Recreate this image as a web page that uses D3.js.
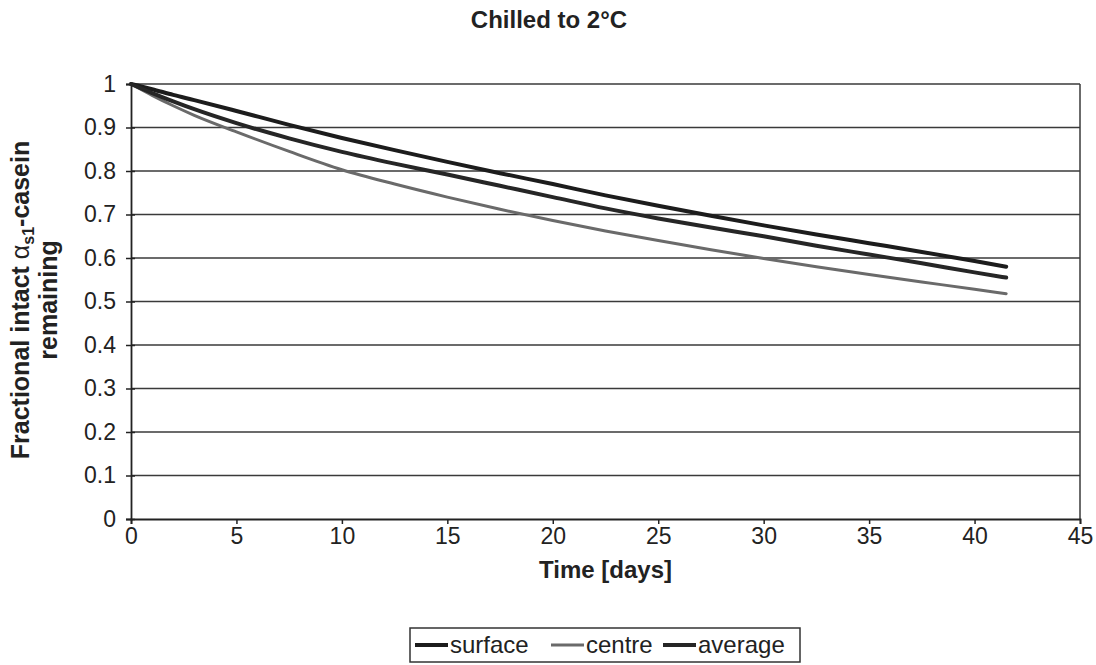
<!DOCTYPE html>
<html>
<head>
<meta charset="utf-8">
<script src="https://cdn.jsdelivr.net/npm/d3@7"></script>
<style>
  html, body { margin: 0; padding: 0; background: #fff; }
  svg text { font-family: "Liberation Sans", Arial, Helvetica, sans-serif; fill: #222; }
</style>
</head>
<body>
<svg id="chart" width="1096" height="665"></svg>
<script>
const days    = [0, 1, 2, 3, 5, 7.5, 10, 12.5, 15, 17.5, 20, 22.5, 25, 27.5, 30, 32.5, 35, 37.5, 40, 41.5];
const surface = [1.000, 0.988, 0.975, 0.963, 0.938, 0.906, 0.876, 0.848, 0.821, 0.795, 0.770, 0.744, 0.720, 0.697, 0.675, 0.654, 0.634, 0.614, 0.593, 0.580];
const centre  = [1.000, 0.974, 0.950, 0.928, 0.890, 0.845, 0.803, 0.770, 0.740, 0.712, 0.686, 0.662, 0.640, 0.619, 0.599, 0.580, 0.562, 0.545, 0.528, 0.518];
const average = [1.000, 0.979, 0.960, 0.942, 0.910, 0.875, 0.844, 0.817, 0.792, 0.766, 0.740, 0.714, 0.691, 0.670, 0.650, 0.628, 0.608, 0.588, 0.567, 0.555];
const xTicks = [0, 5, 10, 15, 20, 25, 30, 35, 40, 45];
const yTicks = [0, 0.1, 0.2, 0.3, 0.4, 0.5, 0.6, 0.7, 0.8, 0.9, 1];
const seriesNames = ["surface", "centre", "average"];

const svg = d3.select("#chart");
const m = { left: 131, right: 1080, top: 84, bottom: 519 };
const x = d3.scaleLinear().domain([0, 45]).range([m.left, m.right]);
const y = d3.scaleLinear().domain([0, 1]).range([m.bottom, m.top]);

const series = [
  { name: "surface", values: surface, color: "#1c1c1c", width: 4 },
  { name: "centre",  values: centre,  color: "#6a6a6a", width: 3 },
  { name: "average", values: average, color: "#262626", width: 4 }
];

// gridlines
svg.append("g").selectAll("line").data(yTicks.slice(1)).join("line")
  .attr("x1", m.left).attr("x2", m.right)
  .attr("y1", d => y(d)).attr("y2", d => y(d))
  .attr("stroke", "#3a3a3a").attr("stroke-width", 1.5);

// right border
svg.append("line").attr("x1", m.right).attr("x2", m.right)
  .attr("y1", m.top).attr("y2", m.bottom)
  .attr("stroke", "#3a3a3a").attr("stroke-width", 1.5);

// x axis
const xAxis = svg.append("g").attr("transform", `translate(0,${m.bottom})`)
  .call(d3.axisBottom(x).tickValues(xTicks).tickFormat(d3.format("d")).tickSize(5).tickPadding(4));
xAxis.select(".domain").attr("stroke", "#222").attr("stroke-width", 1.8);
xAxis.selectAll(".tick line").attr("stroke", "#222").attr("stroke-width", 1.5);
xAxis.selectAll(".tick text").attr("font-size", 23).attr("fill", "#222")
  .style("font-family", '"Liberation Sans", Arial, sans-serif');

// y axis
const yAxis = svg.append("g").attr("transform", `translate(${m.left},0)`)
  .call(d3.axisLeft(y).tickValues(yTicks).tickFormat(d => d === 0 || d === 1 ? d3.format("d")(d) : d3.format(".1f")(d)).tickSize(5).tickPadding(10));
yAxis.select(".domain").attr("stroke", "#222").attr("stroke-width", 1.8);
yAxis.selectAll(".tick line").attr("stroke", "#222").attr("stroke-width", 1.5).attr("x2", -5).attr("x1", 4);
yAxis.selectAll(".tick text").attr("font-size", 23).attr("fill", "#222")
  .style("font-family", '"Liberation Sans", Arial, sans-serif');

// lines
const line = d3.line().x((d, i) => x(days[i])).y(d => y(d)).curve(d3.curveMonotoneX);
svg.append("g").selectAll("path").data(series).join("path")
  .attr("d", d => line(d.values))
  .attr("fill", "none")
  .attr("stroke", d => d.color)
  .attr("stroke-width", d => d.width)
  .attr("stroke-linecap", "round");

// title
svg.append("text").attr("x", 549).attr("y", 28).attr("text-anchor", "middle")
  .attr("font-size", 24).attr("font-weight", "bold").text("Chilled to 2°C");

// x title
svg.append("text").attr("x", (m.left + m.right) / 2).attr("y", 578).attr("text-anchor", "middle")
  .attr("font-size", 24).attr("font-weight", "bold").text("Time [days]");

// y title
const yt = svg.append("text").attr("transform", "translate(29,300) rotate(-90)")
  .attr("text-anchor", "middle").attr("font-size", 25).attr("font-weight", "bold");
yt.append("tspan").text("Fractional intact ");
yt.append("tspan").attr("font-weight", "normal").text("α");
yt.append("tspan").attr("font-size", 16).attr("dy", 5).text("s1");
yt.append("tspan").attr("dy", -5).text("-casein");
svg.append("text").attr("transform", "translate(57,300) rotate(-90)")
  .attr("text-anchor", "middle").attr("font-size", 25).attr("font-weight", "bold").text("remaining");

// legend
const leg = svg.append("g");
leg.append("rect").attr("x", 410).attr("y", 628).attr("width", 390).attr("height", 34)
  .attr("fill", "#fff").attr("stroke", "#333").attr("stroke-width", 1.5);
const legX = [415, 551, 663];
const items = leg.selectAll("g.item").data(series).join("g").attr("class", "item")
  .attr("transform", (d, i) => `translate(${legX[i]},645)`);
items.append("line").attr("x1", 0).attr("x2", 33).attr("y1", 0).attr("y2", 0)
  .attr("stroke", d => d.color).attr("stroke-width", d => d.width);
items.append("text").attr("x", 35).attr("y", 8).attr("font-size", 24)
  .text((d, i) => seriesNames[i]);
</script>
</body>
</html>
